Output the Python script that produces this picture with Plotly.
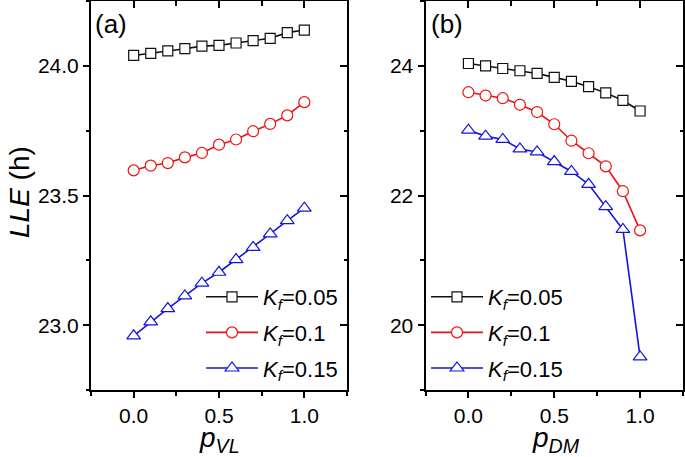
import plotly.graph_objects as go

# ---------------- data ----------------
p_values = [0.0, 0.1, 0.2, 0.3, 0.4, 0.5, 0.6, 0.7, 0.8, 0.9, 1.0]

series_names = ["<i>K</i><sub><i>f</i></sub>=0.05",
                "<i>K</i><sub><i>f</i></sub>=0.1",
                "<i>K</i><sub><i>f</i></sub>=0.15"]

# panel (a): LLE vs p_VL
lle_vl_k005 = [24.04, 24.048, 24.058, 24.066, 24.076, 24.079, 24.088, 24.097, 24.106, 24.128, 24.138]
lle_vl_k010 = [23.597, 23.615, 23.625, 23.647, 23.664, 23.696, 23.716, 23.748, 23.776, 23.809, 23.860]
lle_vl_k015 = [22.959, 23.013, 23.064, 23.113, 23.162, 23.204, 23.253, 23.300, 23.352, 23.403, 23.451]

# panel (b): LLE vs p_DM
lle_dm_k005 = [24.036, 24.0, 23.959, 23.924, 23.883, 23.822, 23.761, 23.679, 23.583, 23.466, 23.303]
lle_dm_k010 = [23.593, 23.542, 23.501, 23.399, 23.287, 23.099, 22.845, 22.652, 22.450, 22.066, 21.462]
lle_dm_k015 = [23.008, 22.916, 22.865, 22.718, 22.672, 22.524, 22.371, 22.173, 21.827, 21.476, 19.51]

x_tick_vals = [0.0, 0.5, 1.0]
x_tick_text = ["0.0", "0.5", "1.0"]
ya_tick_vals = [23.0, 23.5, 24.0]
ya_tick_text = ["23.0", "23.5", "24.0"]
yb_tick_vals = [20, 22, 24]
yb_tick_text = ["20", "22", "24"]

# ---------------- style ----------------
FONT = "Liberation Sans, Arial, sans-serif"
colors = ["#111111", "#ee1111", "#1414e0"]
symbols = ["square", "circle", "triangle-up"]
msizes = [10, 11, 12]
W, H = 685, 457

fig = go.Figure()

panel_a = [lle_vl_k005, lle_vl_k010, lle_vl_k015]
panel_b = [lle_dm_k005, lle_dm_k010, lle_dm_k015]

for i, ys in enumerate(panel_a):
    fig.add_trace(go.Scatter(
        x=p_values, y=ys, mode="lines+markers", name=series_names[i],
        line=dict(color=colors[i], width=1.6),
        marker=dict(symbol=symbols[i], size=msizes[i], color="white",
                    line=dict(color=colors[i], width=1.2)),
        xaxis="x", yaxis="y", legend="legend", legendgroup="a%d" % i, cliponaxis=False))
for i, ys in enumerate(panel_b):
    fig.add_trace(go.Scatter(
        x=p_values, y=ys, mode="lines+markers", name=series_names[i],
        line=dict(color=colors[i], width=1.6),
        marker=dict(symbol=symbols[i], size=msizes[i], color="white",
                    line=dict(color=colors[i], width=1.2)),
        xaxis="x2", yaxis="y2", legend="legend2", legendgroup="b%d" % i, cliponaxis=False))

# invisible traces hosting the mirrored (inside-tick) top / right axes
for xa, ya, ys in [("x3", "y", lle_vl_k005), ("x", "y3", lle_vl_k005),
                   ("x4", "y2", lle_dm_k005), ("x2", "y4", lle_dm_k005)]:
    fig.add_trace(go.Scatter(x=p_values, y=ys, mode="markers", opacity=0,
                             showlegend=False, hoverinfo="skip", xaxis=xa, yaxis=ya))

xa_dom = [91 / W, 347 / W]
xb_dom = [425.5 / W, 683 / W]
y_dom = [(H - 390) / H, 1 - 1 / H]

tickfont = dict(family=FONT, size=21, color="black")
common = dict(showline=True, linecolor="black", linewidth=2, showgrid=False,
              zeroline=False, tickcolor="black", tickwidth=1.5, tickfont=tickfont)

def main_x(dom, anchor):
    return dict(domain=dom, anchor=anchor, range=[-0.25, 1.25],
                tickvals=x_tick_vals, ticktext=x_tick_text,
                ticks="outside", ticklen=6,
                minor=dict(dtick=0.25, tick0=0, ticks="outside", ticklen=3.5,
                           tickwidth=1.5, tickcolor="black"),
                **common)

def main_y(rng, tv, tt, minor_dtick, anchor):
    return dict(domain=y_dom, anchor=anchor, range=rng, tickvals=tv, ticktext=tt,
                ticks="outside", ticklen=6,
                minor=dict(dtick=minor_dtick, tick0=rng[0], ticks="outside", ticklen=3.5,
                           tickwidth=1.5, tickcolor="black"),
                **common)

def mirror_x(over, anchor):
    return dict(overlaying=over, anchor=anchor, side="top", range=[-0.25, 1.25],
                tickvals=x_tick_vals, showticklabels=False, ticks="inside", ticklen=7,
                minor=dict(dtick=0.25, tick0=0, ticks="inside", ticklen=5,
                           tickwidth=1.5, tickcolor="black"),
                showline=True, linecolor="black", linewidth=2, showgrid=False,
                zeroline=False, tickcolor="black", tickwidth=1.5)

def mirror_y(over, anchor, rng, tv, minor_dtick):
    return dict(overlaying=over, anchor=anchor, side="right", range=rng,
                tickvals=tv, showticklabels=False, ticks="inside", ticklen=7,
                minor=dict(dtick=minor_dtick, tick0=rng[0], ticks="inside", ticklen=3.5,
                           tickwidth=1.5, tickcolor="black"),
                showline=True, linecolor="black", linewidth=2, showgrid=False,
                zeroline=False, tickcolor="black", tickwidth=1.5)

ya_range = [22.75, 24.25]
yb_range = [19, 25]

legend_common = dict(font=dict(family=FONT, size=22, color="black"),
                     bgcolor="rgba(0,0,0,0)", borderwidth=0, itemwidth=52,
                     xanchor="left", yanchor="bottom", tracegroupgap=4,
                     itemclick=False, itemdoubleclick=False)

fig.update_layout(
    width=W, height=H, margin=dict(l=0, r=0, t=0, b=0),
    paper_bgcolor="white", plot_bgcolor="white",
    font=dict(family=FONT, color="black"),
    showlegend=True,
    xaxis=main_x(xa_dom, "y"),
    yaxis=main_y(ya_range, ya_tick_vals, ya_tick_text, 0.25, "x"),
    xaxis2=main_x(xb_dom, "y2"),
    yaxis2=main_y(yb_range, yb_tick_vals, yb_tick_text, 1, "x2"),
    xaxis3=mirror_x("x", "y"),
    yaxis3=mirror_y("y", "x", ya_range, ya_tick_vals, 0.25),
    xaxis4=mirror_x("x2", "y2"),
    yaxis4=mirror_y("y2", "x2", yb_range, yb_tick_vals, 1),
    legend=dict(x=201 / W, y=(H - 389) / H, **legend_common),
    legend2=dict(x=426 / W, y=(H - 389) / H, **legend_common),
    annotations=[
        dict(text="(a)", x=93 / W, y=1 - 7 / H, xref="paper", yref="paper",
             xanchor="left", yanchor="top", showarrow=False,
             font=dict(family=FONT, size=26, color="black")),
        dict(text="(b)", x=429 / W, y=1 - 7 / H, xref="paper", yref="paper",
             xanchor="left", yanchor="top", showarrow=False,
             font=dict(family=FONT, size=26, color="black")),
        dict(text="<i>LLE</i> (h)", x=19 / W, y=1 - 192 / H, xref="paper", yref="paper",
             xanchor="center", yanchor="middle", textangle=-90, showarrow=False,
             font=dict(family=FONT, size=28, color="black")),
        dict(text="<i>p</i><sub><i>VL</i></sub>", x=219 / W, y=1 - 439 / H,
             xref="paper", yref="paper", xanchor="center", yanchor="middle",
             showarrow=False, font=dict(family=FONT, size=28, color="black")),
        dict(text="<i>p</i><sub><i>DM</i></sub>", x=556 / W, y=1 - 439 / H,
             xref="paper", yref="paper", xanchor="center", yanchor="middle",
             showarrow=False, font=dict(family=FONT, size=28, color="black")),
    ],
)

fig.write_html("out.html", config={"displayModeBar": False},
               post_script="document.body.style.margin='0';document.body.style.padding='0';")
